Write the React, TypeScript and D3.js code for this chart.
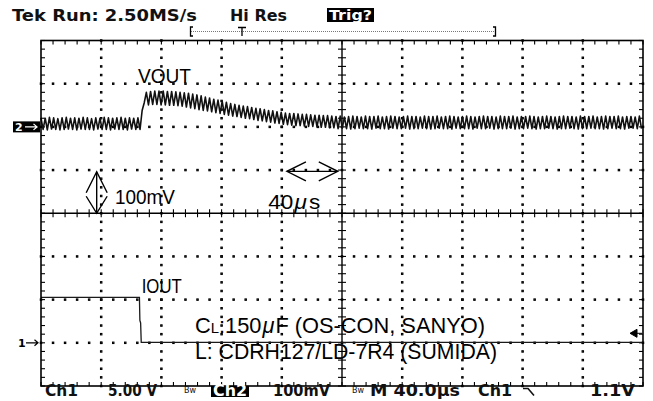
import * as d3 from "d3";

const W = 653;
const H = 401;

// scope settings shown on screen
const headerLabels = ["Tek Run: 2.50MS/s", "Hi Res", "Trig?"];
const ch2Position = 2; // divisions above centre (VOUT ground)
const ch2MvPerDiv = 100;
const ch1Position = -3; // IOUT ground
const ch1VoltsPerDiv = 5;
const trigLevelV = 1.1;

// CH2 = VOUT ripple, one reading every 1.4 us, mV above the CH2 ground marker
const voutSampleUs = 1.4;
const voutBeforeStep = [
  21, -6, 20, -7, 22, -5, 21, -6, 19, -7, 21, -6, 22, -5, 20, -6, 21, -7, 20, -5, 22, -6, 21, -6,
  19, -7, 21, -5, 20, -6, 22, -6, 21, -7, 20, -5, 21, -6, 22, -6, 20, -7, 21, -5, 20, -6, 21, -6,
];
const voutTransient = [
  38, 56, 80, 51, 82, 52, 83, 52, 83, 51, 83, 51, 82, 50, 82, 50, 81, 49,
  80, 48, 79, 46, 78, 44, 76, 42, 74,
  40, 72, 38, 69, 37, 67, 35, 64, 33, 62, 31, 59, 29, 57, 27, 54, 25, 52, 24,
  50, 22, 48, 20, 47, 19, 45, 17, 43, 15, 42, 14, 40, 12, 38, 11, 37, 9, 35, 8, 34, 6, 32,
  5, 31, 4, 31, 3, 30, 3, 29, 2, 29, 1, 28, 1, 27, 0, 27, -1, 26, -1, 26, -2, 25, -2,
];
const voutSettled = [
  24, -4, 25, -3, 23, -4, 24, -5, 25, -4, 24, -3, 23, -4, 25, -4, 24, -5, 24, -3,
  25, -4, 23, -4, 24, -5, 25, -3, 24, -4, 23, -4, 24, -3, 25, -5, 24, -4, 24, -4,
  23, -3, 25, -4, 24, -5, 24, -4, 25, -3, 23, -4, 24, -4, 25, -5, 24, -3, 23, -4,
  24, -4, 25, -4, 24, -5, 23, -3, 24, -4, 25, -4, 24, -3, 24, -5, 23, -4, 25, -4,
  24, -4, 24, -3, 25, -5, 23, -4, 24, -4, 24, -3, 25, -4, 24, -5, 23, -4, 24, -4,
  25, -3, 24, -4, 23, -5, 24, -4, 25, -4, 24, -3, 24, -4, 23, -5, 25, -4, 24, -4,
  24, -3, 25, -4, 23, -4, 24, -5, 25, -4, 24, -3, 24, -4, 25, -4, 23, -5, 24, -3,
  24, -3, 23, -4, 25, -4,
];

// CH1 = IOUT, load step (volts on CH1)
const ioutTimesUs = [0, 65.4, 65.7, 66.2, 66.6, 400];
const ioutVolts = [5.25, 5.25, 2.6, 2.3, 0.05, 0.05];

const xDiv = d3.scaleLinear().domain([0, 10]).range([41, 643]);
const yDiv = d3.scaleLinear().domain([-4, 4]).range([386, 40.5]);
const xT = d3.scaleLinear().domain([0, 400]).range([41, 643]);

const vout = [...voutBeforeStep, ...voutTransient, ...voutSettled];

const voutLine = d3
  .line<number>()
  .x((_, i) => xT(Math.min(i * voutSampleUs, 400)))
  .y((v) => yDiv(ch2Position + v / ch2MvPerDiv));

const ioutLine = d3
  .line<number>()
  .x((_, i) => xT(ioutTimesUs[i]))
  .y((v) => yDiv(ch1Position + v / ch1VoltsPerDiv));

const sans = "'Liberation Sans', Arial, sans-serif";
const tek = "'DejaVu Sans', Verdana, sans-serif";

function Graticule() {
  const minorX = d3.range(0, 10.001, 0.2);
  const minorY = d3.range(-4, 4.001, 0.2);
  const dots: JSX.Element[] = [];
  [-3, -2, -1, 1, 2, 3].forEach((r) =>
    minorX.forEach((c, i) =>
      dots.push(<rect key={`h${r}-${i}`} x={xDiv(c) - 0.7} y={yDiv(r) - 0.7} width={1.4} height={1.4} fill="#6a6a6a" />)
    )
  );
  [1, 2, 3, 4, 6, 7, 8, 9].forEach((c) =>
    minorY.forEach((r, i) =>
      dots.push(<rect key={`v${c}-${i}`} x={xDiv(c) - 0.7} y={yDiv(r) - 0.7} width={1.4} height={1.4} fill="#6a6a6a" />)
    )
  );
  const tickLen = 4;
  return (
    <g stroke="#000" strokeWidth={1.1}>
      {dots}
      {/* centre cross with minor ticks */}
      <line x1={xDiv(5)} x2={xDiv(5)} y1={yDiv(-4)} y2={yDiv(4)} strokeWidth={1.4} />
      <line x1={xDiv(0)} x2={xDiv(10)} y1={yDiv(0)} y2={yDiv(0)} strokeWidth={1.4} />
      {minorY.map((r, i) => (
        <g key={`cy${i}`}>
          <line x1={xDiv(5) - tickLen} x2={xDiv(5) + tickLen} y1={yDiv(r)} y2={yDiv(r)} />
          <line x1={xDiv(0)} x2={xDiv(0) + tickLen} y1={yDiv(r)} y2={yDiv(r)} />
          <line x1={xDiv(10) - tickLen} x2={xDiv(10)} y1={yDiv(r)} y2={yDiv(r)} />
        </g>
      ))}
      {minorX.map((c, i) => (
        <g key={`cx${i}`}>
          <line x1={xDiv(c)} x2={xDiv(c)} y1={yDiv(0) - tickLen} y2={yDiv(0) + tickLen} />
          <line x1={xDiv(c)} x2={xDiv(c)} y1={yDiv(4)} y2={yDiv(4) + tickLen} />
          <line x1={xDiv(c)} x2={xDiv(c)} y1={yDiv(-4) - tickLen} y2={yDiv(-4)} />
        </g>
      ))}
    </g>
  );
}

export default function App() {
  const vArrowX = xDiv(0.925);
  const vTop = yDiv(0.96);
  const vBot = yDiv(0);
  const hY = yDiv(0.97);
  const hL = xDiv(4.085);
  const hR = xDiv(4.93);
  const ch2Y = yDiv(ch2Position);
  const ch1Y = yDiv(ch1Position);
  const trigY = yDiv(ch1Position + trigLevelV / ch1VoltsPerDiv);
  return (
    <svg width={W} height={H} style={{ position: "fixed", left: 0, top: 0, background: "#fff" }}>
      <rect width={W} height={H} fill="#fff" />

      {/* header */}
      <g fontFamily={tek} fontWeight="bold" fontSize={15.5} fill="#111">
        <text x={12} y={20.5} textLength={185} lengthAdjust="spacingAndGlyphs">{headerLabels[0]}</text>
        <text x={230} y={20.5} textLength={57} lengthAdjust="spacingAndGlyphs">{headerLabels[1]}</text>
        <rect x={327} y={8} width={47} height={14} fill="#000" />
        <text x={329} y={20} fill="#fff" fontSize={14} textLength={43} lengthAdjust="spacingAndGlyphs">{headerLabels[2]}</text>
      </g>
      <g stroke="#000" fill="none" strokeWidth={1.3}>
        <line x1={191} x2={495} y1={31.5} y2={31.5} stroke="#777" strokeWidth={1} strokeDasharray="1 1" />
        <path d="M193,27 H190.5 V36 H193" />
        <path d="M493,27 H495.5 V36 H493" />
        <path d="M238,27.5 H246 M242,27.5 V36" />
      </g>

      <Graticule />

      {/* traces */}
      <path d={voutLine(vout) ?? ""} fill="none" stroke="#111" strokeWidth={1.6} strokeLinejoin="round" />
      <path d={ioutLine(ioutVolts) ?? ""} fill="none" stroke="#1a1a1a" strokeWidth={1.3} />

      <rect x={xDiv(0)} y={yDiv(4)} width={xDiv(10) - xDiv(0)} height={yDiv(-4) - yDiv(4)} fill="none" stroke="#000" strokeWidth={1.6} />

      {/* channel markers */}
      <rect x={13} y={ch2Y - 5.5} width={27} height={11} fill="#000" />
      <text x={15} y={ch2Y + 4.5} fill="#fff" fontFamily={tek} fontWeight="bold" fontSize={11}>2</text>
      <path d={`M25,${ch2Y} H37 M33.5,${ch2Y - 3} L37,${ch2Y} L33.5,${ch2Y + 3}`} stroke="#fff" strokeWidth={1.3} fill="none" />
      <text x={18} y={ch1Y + 4} fill="#000" fontFamily={tek} fontWeight="bold" fontSize={11}>1</text>
      <path d={`M26,${ch1Y} H38 M34.5,${ch1Y - 3} L38,${ch1Y} L34.5,${ch1Y + 3}`} stroke="#000" strokeWidth={1.2} fill="none" />
      <path d={`M630,${trigY} L637,${trigY - 4} L637,${trigY + 4} Z M637,${trigY} H642`} fill="#000" stroke="#000" strokeWidth={1} />

      {/* annotations */}
      <g fontFamily={sans} fill="#000" fontSize={20}>
        <text x={xDiv(1.612)} y={yDiv(3.009)} textLength={53} lengthAdjust="spacingAndGlyphs">VOUT</text>
        <text x={xDiv(1.673)} y={yDiv(-1.853)} textLength={40} lengthAdjust="spacingAndGlyphs">IOUT</text>
        <text x={xDiv(1.229)} y={yDiv(0.203)} textLength={60} lengthAdjust="spacingAndGlyphs">100mV</text>
        <text x={xDiv(3.776)} y={yDiv(0.087)} textLength={52} lengthAdjust="spacingAndGlyphs">
          40<tspan fontStyle="italic" dx={1}>μ</tspan><tspan dx={2}>s</tspan>
        </text>
        <text x={xDiv(2.558)} y={yDiv(-2.773)} fontSize={22} textLength={290} lengthAdjust="spacingAndGlyphs">
          C<tspan fontSize={15}>L</tspan>:150<tspan fontStyle="italic" dx={1}>μ</tspan><tspan dx={1}>F (OS-CON, SANYO)</tspan>
        </text>
        <text x={xDiv(2.558)} y={yDiv(-3.386)} fontSize={22} textLength={302} lengthAdjust="spacingAndGlyphs">
          L: CDRH127/LD-7R4 (SUMIDA)
        </text>
      </g>
      <g stroke="#000" strokeWidth={1.4} fill="none">
        <path d={`M${vArrowX},${vTop} V${vBot}`} />
        <path d={`M${vArrowX - 10.5},${vTop + 21} L${vArrowX},${vTop} L${vArrowX + 10.5},${vTop + 21}`} />
        <path d={`M${vArrowX - 10.5},${vBot - 17} L${vArrowX},${vBot} L${vArrowX + 10.5},${vBot - 17}`} />
        <path d={`M${hL},${hY} H${hR}`} />
        <path d={`M${hL + 19},${hY - 9.5} L${hL},${hY} L${hL + 19},${hY + 9.5}`} />
        <path d={`M${hR - 19},${hY - 9.5} L${hR},${hY} L${hR - 19},${hY + 9.5}`} />
      </g>

      {/* status line */}
      <g fontFamily={tek} fontWeight="bold" fontSize={15} fill="#111">
        <text x={45} y={396} textLength={33} lengthAdjust="spacingAndGlyphs">Ch1</text>
        <text x={108} y={396} textLength={49} lengthAdjust="spacingAndGlyphs">5.00 V</text>
        <text x={184} y={393} fontSize={8} fontWeight="normal">Bw</text>
        <rect x={211} y={386} width={38} height={11} fill="#000" />
        <text x={213} y={396} fill="#fff" textLength={34} lengthAdjust="spacingAndGlyphs">Ch2</text>
        <text x={273} y={396} textLength={57} lengthAdjust="spacingAndGlyphs">100mV</text>
        <text x={352} y={393} fontSize={8} fontWeight="normal">Bw</text>
        <text x={370} y={396} textLength={90} lengthAdjust="spacingAndGlyphs">M 40.0µs</text>
        <text x={478} y={396} textLength={34} lengthAdjust="spacingAndGlyphs">Ch1</text>
        <text x={590} y={396} textLength={45} lengthAdjust="spacingAndGlyphs">1.1V</text>
      </g>
      <path d="M523,388.5 H528 L534,395.5" stroke="#111" strokeWidth={1.6} fill="none" />
    </svg>
  );
}
